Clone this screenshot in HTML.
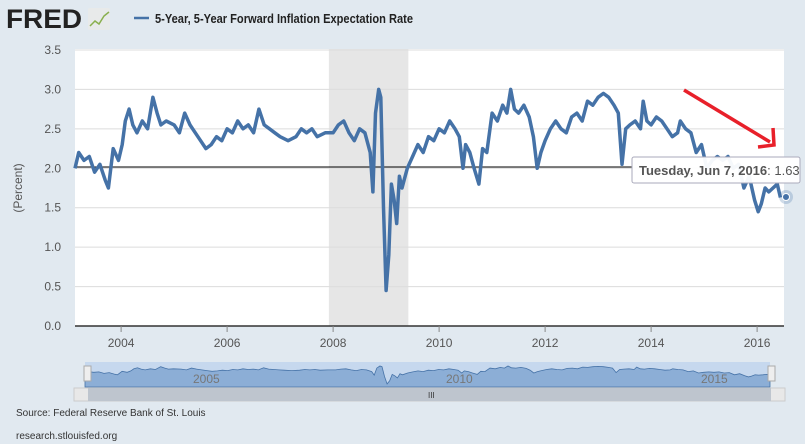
<!DOCTYPE html>
<html><head><meta charset="utf-8"><style>
body{margin:0;background:#e1e9f0;font-family:"Liberation Sans",sans-serif;}
#wrap{position:relative;width:805px;height:444px;overflow:hidden;background:#e1e9f0;}
</style></head><body>
<div id="wrap">
<svg id="svg" width="805" height="444" xmlns="http://www.w3.org/2000/svg">
<text x="6" y="28" font-size="27" font-weight="bold" fill="#222" font-family="Liberation Sans" textLength="76" lengthAdjust="spacingAndGlyphs">FRED</text>
<rect x="88" y="8" width="22" height="22" fill="#e8eaea" rx="2"/>
<polyline points="90,26 95,21 99,24 104,16 109,12" fill="none" stroke="#8ab04e" stroke-width="1.5"/>
<line x1="134" y1="18" x2="149" y2="18" stroke="#4572a7" stroke-width="2.5"/>
<text x="155" y="23" font-size="12.5" font-weight="bold" fill="#222" textLength="258" lengthAdjust="spacingAndGlyphs">5-Year, 5-Year Forward Inflation Expectation Rate</text>
<rect x="75" y="49" width="709" height="277" fill="#fff"/>
<g id="grid"></g>
<line x1="75" y1="167" x2="632" y2="167" stroke="#000" stroke-width="1"/>
<g id="series"></g>
<g id="ticks"></g>
<text transform="translate(22,188) rotate(-90)" font-size="12" fill="#555" text-anchor="middle">(Percent)</text>
<g>
<rect x="632" y="157" width="168" height="26" fill="#fff" fill-opacity="0.95" stroke="#aab" rx="2"/>
<text x="639" y="175" font-size="13" fill="#555"><tspan font-weight="bold">Tuesday, Jun 7, 2016</tspan>: 1.63</text>
</g>
<circle cx="786" cy="197" r="7" fill="#4572a7" fill-opacity="0.25"/>
<circle cx="786" cy="197" r="3.5" fill="#4572a7" stroke="#fff" stroke-width="1"/>
<g>
<line x1="684" y1="90" x2="770" y2="142" stroke="#e8202a" stroke-width="3.5"/>
<polyline points="758,147 774,145 773,128" fill="none" stroke="#e8202a" stroke-width="3.5"/>
</g>
<g id="nav">
<rect x="85" y="362" width="685" height="25" fill="#c6d8ee"/>
<path id="navarea" fill="#8caed6" stroke="#4572a7" stroke-width="0.8"/>
<text x="193" y="383" font-size="12" fill="#777">2005</text>
<text x="446" y="383" font-size="12" fill="#777">2010</text>
<text x="701" y="383" font-size="12" fill="#777">2015</text>
<rect x="84" y="366" width="7" height="15" fill="#eee" stroke="#aaa"/>
<rect x="768" y="366" width="7" height="15" fill="#eee" stroke="#aaa"/>
<rect x="74" y="388" width="711" height="13" fill="#e8e8e8" stroke="#ccc"/>
<rect x="88" y="388" width="683" height="13" fill="#bec5ce"/>
<text x="428" y="398" font-size="8" fill="#333">III</text>
</g>
<text x="16" y="416" font-size="10" fill="#333">Source: Federal Reserve Bank of St. Louis</text>
<text x="16" y="439" font-size="10" fill="#333">research.stlouisfed.org</text>
</svg>
</div>
<script>
const years=[2003.13,2003.2,2003.3,2003.4,2003.5,2003.6,2003.7,2003.76,2003.85,2003.95,2004.02,2004.08,2004.15,2004.22,2004.3,2004.4,2004.5,2004.6,2004.68,2004.75,2004.85,2005.0,2005.1,2005.2,2005.3,2005.4,2005.5,2005.6,2005.7,2005.8,2005.9,2006.0,2006.1,2006.2,2006.3,2006.4,2006.5,2006.6,2006.7,2006.8,2006.9,2007.0,2007.15,2007.3,2007.4,2007.5,2007.6,2007.7,2007.85,2008.0,2008.1,2008.2,2008.3,2008.4,2008.5,2008.6,2008.7,2008.75,2008.8,2008.86,2008.9,2008.95,2009.0,2009.05,2009.1,2009.15,2009.2,2009.25,2009.3,2009.4,2009.5,2009.6,2009.7,2009.8,2009.9,2010.0,2010.1,2010.2,2010.3,2010.38,2010.45,2010.5,2010.58,2010.66,2010.75,2010.82,2010.9,2011.0,2011.1,2011.2,2011.28,2011.35,2011.42,2011.5,2011.6,2011.7,2011.78,2011.85,2011.92,2012.0,2012.1,2012.2,2012.3,2012.4,2012.5,2012.6,2012.7,2012.8,2012.9,2013.0,2013.1,2013.2,2013.3,2013.38,2013.45,2013.52,2013.6,2013.7,2013.8,2013.85,2013.92,2014.0,2014.1,2014.2,2014.3,2014.4,2014.5,2014.55,2014.65,2014.75,2014.85,2014.95,2015.05,2015.15,2015.25,2015.35,2015.45,2015.55,2015.65,2015.75,2015.85,2015.95,2016.02,2016.08,2016.15,2016.22,2016.3,2016.38,2016.44];
const values=[2.0,2.2,2.1,2.15,1.95,2.05,1.85,1.75,2.25,2.1,2.3,2.6,2.75,2.55,2.45,2.6,2.5,2.9,2.7,2.55,2.6,2.55,2.45,2.7,2.55,2.45,2.35,2.25,2.3,2.4,2.35,2.5,2.45,2.6,2.5,2.55,2.45,2.75,2.55,2.5,2.45,2.4,2.35,2.4,2.5,2.45,2.5,2.4,2.45,2.45,2.55,2.6,2.45,2.35,2.5,2.45,2.2,1.7,2.7,3.0,2.9,1.5,0.45,0.9,1.8,1.6,1.3,1.9,1.75,2.0,2.15,2.3,2.2,2.4,2.35,2.5,2.45,2.6,2.5,2.4,2.0,2.3,2.2,2.0,1.8,2.25,2.2,2.7,2.6,2.8,2.7,3.0,2.75,2.7,2.8,2.65,2.4,2.0,2.2,2.35,2.5,2.6,2.5,2.45,2.65,2.7,2.6,2.85,2.8,2.9,2.95,2.9,2.8,2.7,2.05,2.5,2.55,2.6,2.5,2.85,2.6,2.55,2.65,2.6,2.5,2.4,2.45,2.6,2.5,2.45,2.2,2.3,2.0,2.1,2.15,2.1,2.15,2.0,2.05,1.75,1.9,1.6,1.45,1.55,1.75,1.7,1.75,1.8,1.63];
const yTicks=[0.0,0.5,1.0,1.5,2.0,2.5,3.0,3.5];
const xTicks=[2004,2006,2008,2010,2012,2014,2016];
const recession=[2007.92,2009.42];
const NS='http://www.w3.org/2000/svg';
const X=y=>75+(y-2003.13)*53;
const Y=v=>326-v*78.86;
const NX=y=>85+(y-2003.13)*(685/13.31);
const NY=v=>387-v*7;
function mk(t,a,p){const e=document.createElementNS(NS,t);for(const k in a)e.setAttribute(k,a[k]);p.appendChild(e);return e;}
const grid=document.getElementById('grid'),ticks=document.getElementById('ticks'),ser=document.getElementById('series');
const rb=mk('rect',{x:X(recession[0]),y:49,width:X(recession[1])-X(recession[0]),height:277,fill:'#e6e6e6'},grid);


yTicks.forEach(v=>{
 const l=mk('line',{x1:75,x2:784,y1:Y(v),y2:Y(v),stroke:v===0?'#333':'#dcdcdc','stroke-width':v===0?1.5:1},grid);
 
 
 const t=mk('text',{x:61,y:Y(v)+4,'font-size':12,fill:'#555','text-anchor':'end'},ticks);
 t.textContent=v.toFixed(1);
 
 
});
xTicks.forEach(yr=>{
 mk('line',{x1:X(yr),x2:X(yr),y1:326,y2:332,stroke:'#888'},ticks);
 const t=mk('text',{x:X(yr),y:347,'font-size':12,fill:'#555','text-anchor':'middle'},ticks);
 t.textContent=yr;
 
 
});
const pts=years.map((y,i)=>X(y).toFixed(1)+','+Y(values[i]).toFixed(1)).join(' ');
const pl=mk('polyline',{points:pts,fill:'none',stroke:'#4572a7','stroke-width':3.5,'stroke-linejoin':'round'},ser);


let d='M'+NX(years[0])+','+NY(0)+' '+years.map((y,i)=>'L'+NX(y).toFixed(1)+','+NY(values[i]).toFixed(1)).join(' ')+' L'+NX(years[years.length-1])+','+NY(0)+'Z';
const na=document.getElementById('navarea');na.setAttribute('d',d);


</script>
</body></html>
